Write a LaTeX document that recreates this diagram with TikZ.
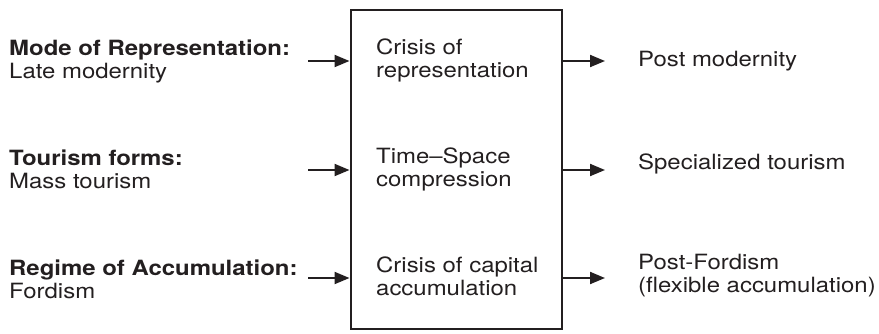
\documentclass[tikz,border=0pt]{standalone}
\usepackage{fontspec}
\setmainfont{TeX Gyre Heros}[FakeStretch=1.14]
\usetikzlibrary{arrows.meta}
\definecolor{ink}{HTML}{231F20}
\tikzset{
    lbl/.style={align=left, anchor=base west, inner sep=0pt, text=ink,
        font=\fontsize{21}{23}\selectfont},
    feed/.style={draw=ink, line width=2pt, -{Triangle[length=15pt,width=12pt]}},
}

\begin{document}
\begin{tikzpicture}[x=1pt,y=-1pt]
\useasboundingbox (0,0) rectangle (879,333);
\node[draw=ink, line width=2pt, minimum width=211pt, minimum height=319pt, inner sep=0pt] (box) at (456,169.5) {};

% inputs
\node[lbl] (mode) at (9,78) {\textbf{Mode of Representation:}\\Late modernity};
\node[lbl] (forms) at (9,188) {\textbf{Tourism forms:}\\Mass tourism};
\node[lbl] (regime) at (9,298) {\textbf{Regime of Accumulation:}\\Fordism};

% inside the box
\node[lbl] (crisisrep) at (376,77) {Crisis of\\representation};
\node[lbl] (timespace) at (376,186) {Time--Space\\compression};
\node[lbl] (crisiscap) at (376,295) {Crisis of capital\\accumulation};

% outputs
\node[lbl] (postmod) at (638,66) {Post modernity};
\node[lbl] (special) at (638,169) {Specialized tourism};
\node[lbl] (postford) at (638,292) {Post-Fordism\\(flexible accumulation)};

\coordinate (inA) at (308,61);
\coordinate (inB) at (308,170);
\coordinate (inC) at (308,278);
\coordinate (outA) at (605,61);
\coordinate (outB) at (605,170);
\coordinate (outC) at (605,278);

\draw[feed] (inA) -- (inA -| box.west);
\draw[feed] (inB) -- (inB -| box.west);
\draw[feed] (inC) -- (inC -| box.west);
\draw[feed] (outA -| box.east) -- (outA);
\draw[feed] (outB -| box.east) -- (outB);
\draw[feed] (outC -| box.east) -- (outC);
\end{tikzpicture}
\end{document}
